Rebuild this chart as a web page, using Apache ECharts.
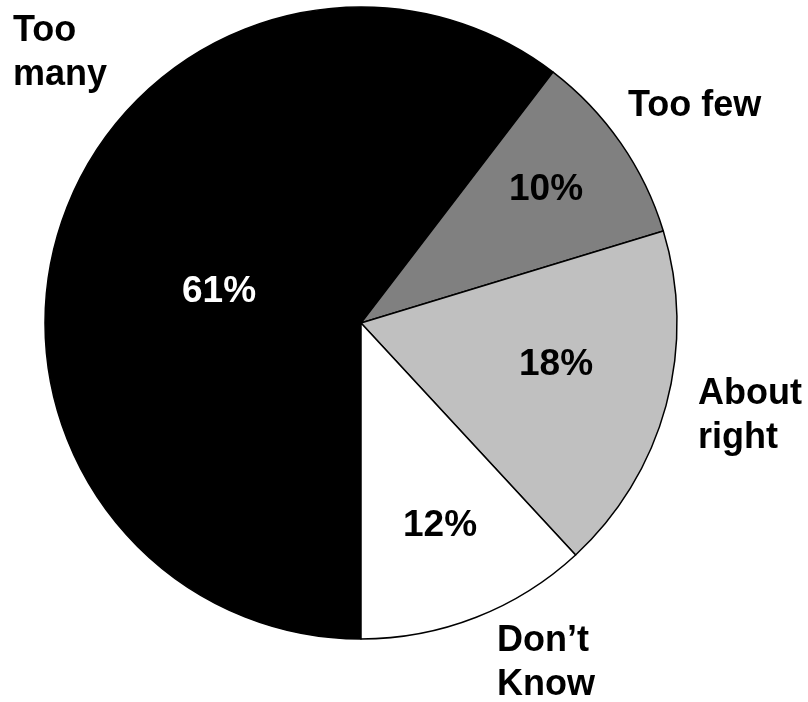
<!DOCTYPE html>
<html>
<head>
<meta charset="utf-8">
<script src="https://cdn.jsdelivr.net/npm/echarts@6/dist/echarts.min.js"></script>
<style>
html,body{margin:0;padding:0;background:#fff;}
#chart{width:808px;height:702px;}
</style>
</head>
<body>
<div id="chart"></div>
<script>
// ---- data ----
var categories = ['Too\nmany', 'Too few', 'About\nright', 'Don\u2019t\nKnow'];
var values = [61, 10, 18, 12];
// ---- styles ----
var sliceColors = ['#000000', '#808080', '#c0c0c0', '#ffffff'];
var pctTextColors = ['#ffffff', '#000000', '#000000', '#000000'];
// label anchors (pixels)
var pctLabelAt = [[219, 292], [546, 190], [556, 365], [440, 526]];
var nameLabelAt = [[13, 9], [628, 84], [698, 372], [497, 619]];

var FONT = '"Liberation Sans", Arial, sans-serif';
var chart = echarts.init(document.getElementById('chart'), null, {renderer: 'canvas'});

var pieData = categories.map(function (c, i) {
  return {
    name: c,
    value: values[i],
    itemStyle: {color: sliceColors[i]},
    label: {color: pctTextColors[i]}
  };
});
var nameData = categories.map(function (c, i) {
  return {name: c, value: values[i]};
});

var common = {
  type: 'pie',
  center: [361, 323],
  radius: 316,
  startAngle: 270,
  clockwise: true,
  avoidLabelOverlap: false,
  animation: false,
  emphasis: {disabled: true},
  labelLine: {show: false}
};

chart.setOption({
  backgroundColor: '#ffffff',
  series: [
    Object.assign({}, common, {
      z: 2,
      data: pieData,
      itemStyle: {borderColor: '#000000', borderWidth: 1.5},
      label: {
        show: true,
        position: 'inside',
        formatter: '{c}%',
        fontFamily: FONT,
        fontWeight: 'bold',
        fontSize: 37
      },
      labelLayout: function (p) {
        var a = pctLabelAt[p.dataIndex];
        return {x: a[0], y: a[1], align: 'center', verticalAlign: 'middle'};
      }
    }),
    Object.assign({}, common, {
      z: 1,
      silent: true,
      data: nameData,
      itemStyle: {color: 'rgba(0,0,0,0)', borderWidth: 0},
      label: {
        show: true,
        position: 'outside',
        formatter: '{b}',
        color: '#000000',
        fontFamily: FONT,
        fontWeight: 'bold',
        fontSize: 36,
        lineHeight: 44,
        align: 'left'
      },
      labelLayout: function (p) {
        var a = nameLabelAt[p.dataIndex];
        return {x: a[0], y: a[1], align: 'left', verticalAlign: 'top'};
      }
    })
  ]
});
</script>
</body>
</html>
